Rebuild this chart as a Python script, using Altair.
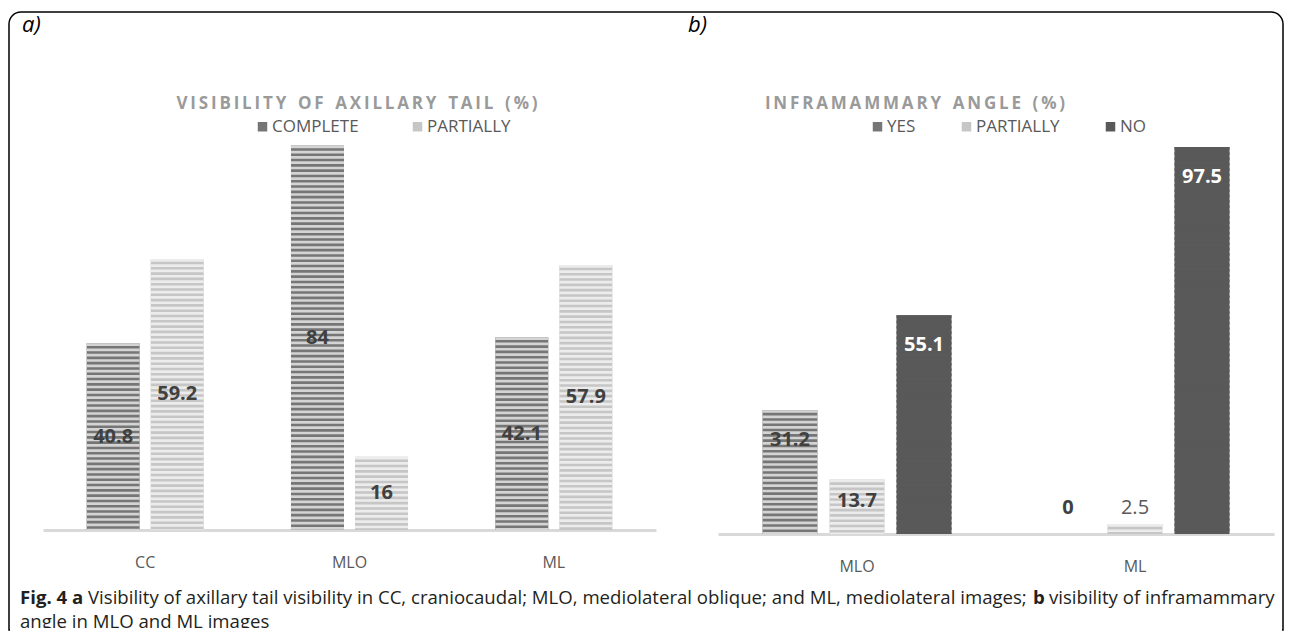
import altair as alt
import pandas as pd

# ---------------- data ----------------
views_a = ["CC", "MLO", "ML"]
series_a = ["COMPLETE", "PARTIALLY"]
complete_a = [40.8, 84.0, 42.1]
partially_a = [59.2, 16.0, 57.9]

views_b = ["MLO", "ML"]
series_b = ["YES", "PARTIALLY", "NO"]
yes_b = [31.2, 0.0]
partially_b = [13.7, 2.5]
no_b = [55.1, 97.5]


def table(views, series, columns):
    rows = []
    for s, vals in zip(series, columns):
        for v, val in zip(views, vals):
            rows.append({"view": v, "series": s, "value": val, "label": f"{val:g}"})
    return pd.DataFrame(rows)


df_a = table(views_a, series_a, [complete_a, partially_a])
df_b = table(views_b, series_b, [yes_b, partially_b, no_b])
one = pd.DataFrame({"k": [0]})

FONT = "Open Sans"
TXT = "#595959"
LAB = "#404040"

W_A, H_A = 613, 412
W_B, H_B = 556, 416


def spaced(s):
    words = s.split(" ")
    return "\u00a0\u00a0\u2009".join("\u2009".join(list(w)) for w in words)


def deco(text, x, y, **kw):
    return alt.Chart(one).mark_text(text=text, **kw).encode(x=alt.value(x), y=alt.value(y))


def axis_x():
    return alt.Axis(title=None, labelAngle=0, ticks=False, domainColor="#d9d9d9",
                    domainWidth=3, labelFont=FONT, labelFontSize=16, labelColor=TXT,
                    labelPadding=24, grid=False)


def legend(x, pad):
    return alt.Legend(title=None, orient="none", legendX=x, legendY=0,
                      direction="horizontal", symbolType="square", symbolSize=90,
                      symbolStrokeWidth=0, labelFont=FONT, labelFontSize=17,
                      labelColor=TXT, columnPadding=pad, labelOffset=1)


# ---------------- panel a ----------------
xa = alt.X("view:N", sort=views_a, scale=alt.Scale(paddingInner=0.427, paddingOuter=0.2135), axis=axis_x())
ya = alt.Y("value:Q", scale=alt.Scale(domain=[0, 90], nice=False), axis=None)
xoa = alt.XOffset("series:N", sort=series_a, scale=alt.Scale(domain=series_a, paddingInner=0.172, paddingOuter=0))

bars_a = alt.Chart(df_a).mark_bar().encode(
    x=xa, xOffset=xoa, y=ya,
    fill=alt.Fill("series:N", scale=alt.Scale(domain=series_a, range=["#767676", "#c6c6c6"]), legend=legend(211, 50)),
)
stripes_a = alt.Chart(df_a).mark_rule(strokeWidth=53, strokeDash=[2.7, 2.6]).encode(
    x=xa, xOffset=xoa, y=ya, y2=alt.datum(0),
    stroke=alt.Stroke("series:N", scale=alt.Scale(domain=series_a, range=["#d4d4d4", "#ececec"]), legend=None),
)
labels_a = alt.Chart(df_a).transform_calculate(mid="datum.value / 2").mark_text(
    font=FONT, fontSize=20, fontWeight="bold", color=LAB, baseline="middle"
).encode(x=xa, xOffset=xoa, y=alt.Y("mid:Q", scale=alt.Scale(domain=[0, 90], nice=False), axis=None), text="label:N")

# invisible anchor that fixes the top-left corner of the whole picture
anchor = alt.Chart(one).mark_rect(opacity=0).encode(
    x=alt.value(-35), x2=alt.value(-34), y=alt.value(-110), y2=alt.value(-109))
frame = alt.Chart(one).mark_rect(fill="white", fillOpacity=0, stroke="black", strokeWidth=1.5,
                                 cornerRadiusTopLeft=12, cornerRadiusTopRight=12).encode(
    x=alt.value(-34), x2=alt.value(1240), y=alt.value(-106), y2=alt.value(512))
frame_cut = alt.Chart(one).mark_rule(color="white", strokeWidth=4).encode(
    x=alt.value(-33), x2=alt.value(1239), y=alt.value(512))

title_a = deco(spaced("VISIBILITY OF AXILLARY TAIL (%)"),
               314, -14, font=FONT, fontSize=17, fontWeight="bold", color="#9a9a9a", align="center", baseline="middle")
tag_a = deco("a)", -21, -93, font=FONT, fontSize=22, fontStyle="italic", color="black", align="left", baseline="middle")

cap_kw = dict(font=FONT, fontSize=18.6, color="#231f20", baseline="middle")
cap1 = deco("Fig. 4 a", -23, 480, fontWeight="bold", align="left", **cap_kw)
cap2 = deco("Visibility of axillary tail visibility in CC, craniocaudal; MLO, mediolateral oblique; and ML, mediolateral images;",
            45, 480, align="left", **cap_kw)
cap3 = deco("b", 990, 480, fontWeight="bold", align="left", **cap_kw)
cap4 = deco("visibility of inframammary", 1006, 480, align="left", **cap_kw)
cap5 = deco("angle in MLO and ML images", -23, 504, align="left", **cap_kw)

panel_a = alt.layer(anchor, frame, bars_a, stripes_a, labels_a, title_a, tag_a, cap1, cap2, cap3, cap4, cap5, frame_cut
                    ).properties(width=W_A, height=H_A)

# ---------------- panel b ----------------
DOM_B = [0, 104.8]
xb = alt.X("view:N", sort=views_b, scale=alt.Scale(paddingInner=0.32, paddingOuter=0.16), axis=axis_x())
yb = alt.Y("value:Q", scale=alt.Scale(domain=DOM_B, nice=False), axis=None)
xob = alt.XOffset("series:N", sort=series_b, scale=alt.Scale(domain=series_b, paddingInner=0.179, paddingOuter=0))

bars_b = alt.Chart(df_b).mark_bar().encode(
    x=xb, xOffset=xob, y=yb,
    fill=alt.Fill("series:N", scale=alt.Scale(domain=series_b, range=["#767676", "#c6c6c6", "#595959"]), legend=legend(151, 42)),
)
stripes_b = alt.Chart(df_b).mark_rule(strokeWidth=55, strokeDash=[2.7, 2.6]).encode(
    x=xb, xOffset=xob, y=yb, y2=alt.datum(0),
    stroke=alt.Stroke("series:N", scale=alt.Scale(domain=series_b, range=["#d4d4d4", "#ececec", "#595959"]), legend=None),
)
lab_pos = "datum.value >= 20 ? datum.value - 7.6 : (datum.value >= 10 ? datum.value - 5.3 : 6.5)"
yl = alt.Y("lab:Q", scale=alt.Scale(domain=DOM_B, nice=False), axis=None)
base_lab_b = alt.Chart(df_b).transform_calculate(lab=lab_pos)
labels_b_dark = base_lab_b.transform_filter("datum.series != 'NO' && datum.label != '2.5'").mark_text(
    font=FONT, fontSize=20, fontWeight="bold", color=LAB, baseline="middle").encode(x=xb, xOffset=xob, y=yl, text="label:N")
labels_b_white = base_lab_b.transform_filter("datum.series == 'NO'").mark_text(
    font=FONT, fontSize=20, fontWeight="bold", color="white", baseline="middle").encode(x=xb, xOffset=xob, y=yl, text="label:N")
labels_b_plain = base_lab_b.transform_filter("datum.label == '2.5'").mark_text(
    font=FONT, fontSize=20, color=TXT, baseline="middle").encode(x=xb, xOffset=xob, y=yl, text="label:N")

title_b = deco(spaced("INFRAMAMMARY ANGLE (%)"),
               197, -14, font=FONT, fontSize=17, fontWeight="bold", color="#9a9a9a", align="center", baseline="middle")
tag_b = deco("b)", -30, -93, font=FONT, fontSize=22, fontStyle="italic", color="black", align="left", baseline="middle")

panel_b = alt.layer(bars_b, stripes_b, labels_b_dark, labels_b_white, labels_b_plain, title_b, tag_b
                    ).resolve_scale(y="shared").properties(width=W_B, height=H_B)

chart = alt.hconcat(panel_a, panel_b, spacing=62, bounds="flush").resolve_scale(
    fill="independent", stroke="independent", xOffset="independent", x="independent", y="independent"
).properties(padding=0).configure_view(strokeWidth=0)

chart.save("out.html", embed_options={"renderer": "svg", "actions": False})
